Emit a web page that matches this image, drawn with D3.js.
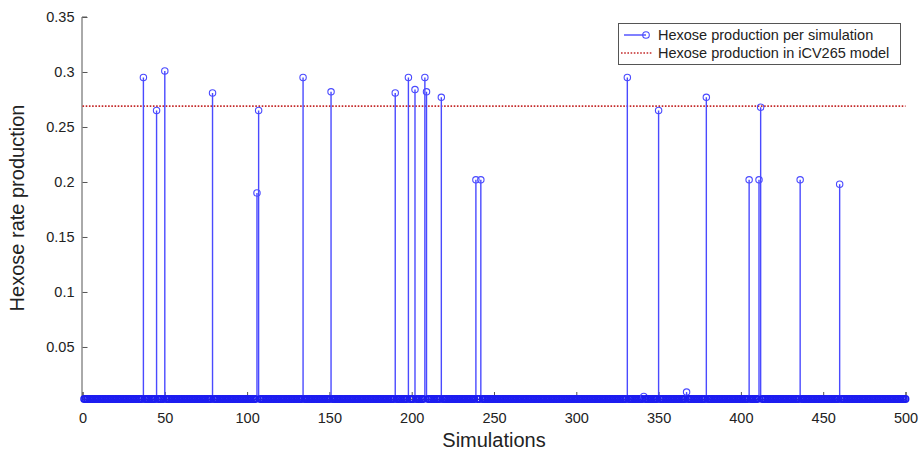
<!DOCTYPE html>
<html><head><meta charset="utf-8">
<script src="https://cdn.jsdelivr.net/npm/d3@7"></script>
<style>body{margin:0;background:#fff}svg{display:block;font-family:"Liberation Sans",Arial,sans-serif}</style>
</head><body><svg id="c" width="919" height="454"></svg>
<script>
// Data
const nSimulations = 500;
const baselineValue = 0.0027;
const spikeSims = [37, 45, 50, 79, 106, 107, 134, 151, 190, 198, 202, 208, 209, 218, 239, 242, 331, 341, 350, 367, 379, 405, 411, 412, 436, 460];
const spikeVals = [0.295, 0.265, 0.301, 0.281, 0.190, 0.265, 0.295, 0.282, 0.281, 0.295, 0.284, 0.295, 0.282, 0.277, 0.202, 0.202, 0.295, 0.005, 0.265, 0.009, 0.277, 0.202, 0.202, 0.268, 0.202, 0.198];
const referenceValue = 0.269;
const xTicks = [0, 50, 100, 150, 200, 250, 300, 350, 400, 450, 500];
const yTicks = [0.05, 0.1, 0.15, 0.2, 0.25, 0.3, 0.35];
const legendLabels = ["Hexose production per simulation", "Hexose production in iCV265 model"];

const spikeMap = new Map(spikeSims.map((s, i) => [s, spikeVals[i]]));
const series = d3.range(1, nSimulations + 1).map(s => ({sim: s, val: spikeMap.has(s) ? spikeMap.get(s) : baselineValue}));

const svg = d3.select("#c");
const L = 82.5, R = 905.5, T = 17, B = 399;
const x = d3.scaleLinear().domain([0, 500]).range([L, R]);
const y = d3.scaleLinear().domain([baselineValue, 0.35]).range([B, T]);
const blue = "#4a4aff";
const blueDark = "#1d1df0";

// axes
const yAxis = d3.axisLeft(y).tickValues(yTicks).tickSize(-5).tickPadding(8).tickFormat(d => String(+d.toFixed(2)));
const gy = svg.append("g").attr("transform", `translate(${L},0)`).call(yAxis);
gy.select(".domain").attr("stroke", "#555").attr("d", `M-0.5,${B}V${T}h5`);
gy.selectAll(".tick line").attr("stroke", "#555");
gy.selectAll("text").attr("font-size", 14.5).attr("fill", "#222");

const xAxis = d3.axisBottom(x).tickValues(xTicks).tickSize(-7).tickPadding(14);
const gx = svg.append("g").attr("transform", `translate(0,${B})`).call(xAxis);
gx.select(".domain").attr("stroke", "#555");
gx.selectAll(".tick line").attr("stroke", "#555");
gx.selectAll("text").attr("font-size", 14.5).attr("fill", "#222");

// reference line
svg.append("line").attr("x1", x(0)).attr("x2", x(500)).attr("y1", y(referenceValue)).attr("y2", y(referenceValue))
  .attr("stroke", "#c42a2a").attr("stroke-width", 1.6).attr("stroke-dasharray", "1.6,1.6");

// stems
const g = svg.append("g");
g.selectAll("line.stem").data(series.filter(d => d.val > baselineValue)).join("line").attr("class", "stem")
  .attr("x1", d => x(d.sim)).attr("x2", d => x(d.sim)).attr("y1", B).attr("y2", d => y(d.val))
  .attr("stroke", blue).attr("stroke-width", 1.4);
g.selectAll("circle").data(series).join("circle")
  .attr("cx", d => x(d.sim)).attr("cy", d => y(d.val)).attr("r", 3.2)
  .attr("fill", "none").attr("stroke", d => d.val > baselineValue ? blue : blueDark).attr("stroke-width", d => d.val > baselineValue ? 1.1 : 1.5);

// legend
const lg = svg.append("g");
lg.append("rect").attr("x", 618.5).attr("y", 23.5).attr("width", 282).attr("height", 41).attr("fill", "#fff").attr("stroke", "#555");
lg.append("line").attr("x1", 624).attr("x2", 646).attr("y1", 35).attr("y2", 35).attr("stroke", blue).attr("stroke-width", 1.4);
lg.append("circle").attr("cx", 646).attr("cy", 35).attr("r", 3.3).attr("fill", "none").attr("stroke", blue).attr("stroke-width", 1.1);
lg.append("line").attr("x1", 621).attr("x2", 652).attr("y1", 53).attr("y2", 53).attr("stroke", "#c42a2a").attr("stroke-width", 1.6).attr("stroke-dasharray", "1.6,1.6");
lg.selectAll("text").data(legendLabels).join("text").attr("x", 658).attr("y", (d, i) => 35 + i * 18).attr("dy", "0.35em")
  .attr("font-size", 14.5).attr("fill", "#222").text(d => d);

// axis titles
svg.append("text").attr("x", (L + R) / 2).attr("y", 447).attr("text-anchor", "middle").attr("font-size", 20).attr("fill", "#222").text("Simulations");
svg.append("text").attr("transform", "translate(24,208) rotate(-90)").attr("text-anchor", "middle").attr("font-size", 20).attr("fill", "#222").text("Hexose rate production");
</script></body></html>
